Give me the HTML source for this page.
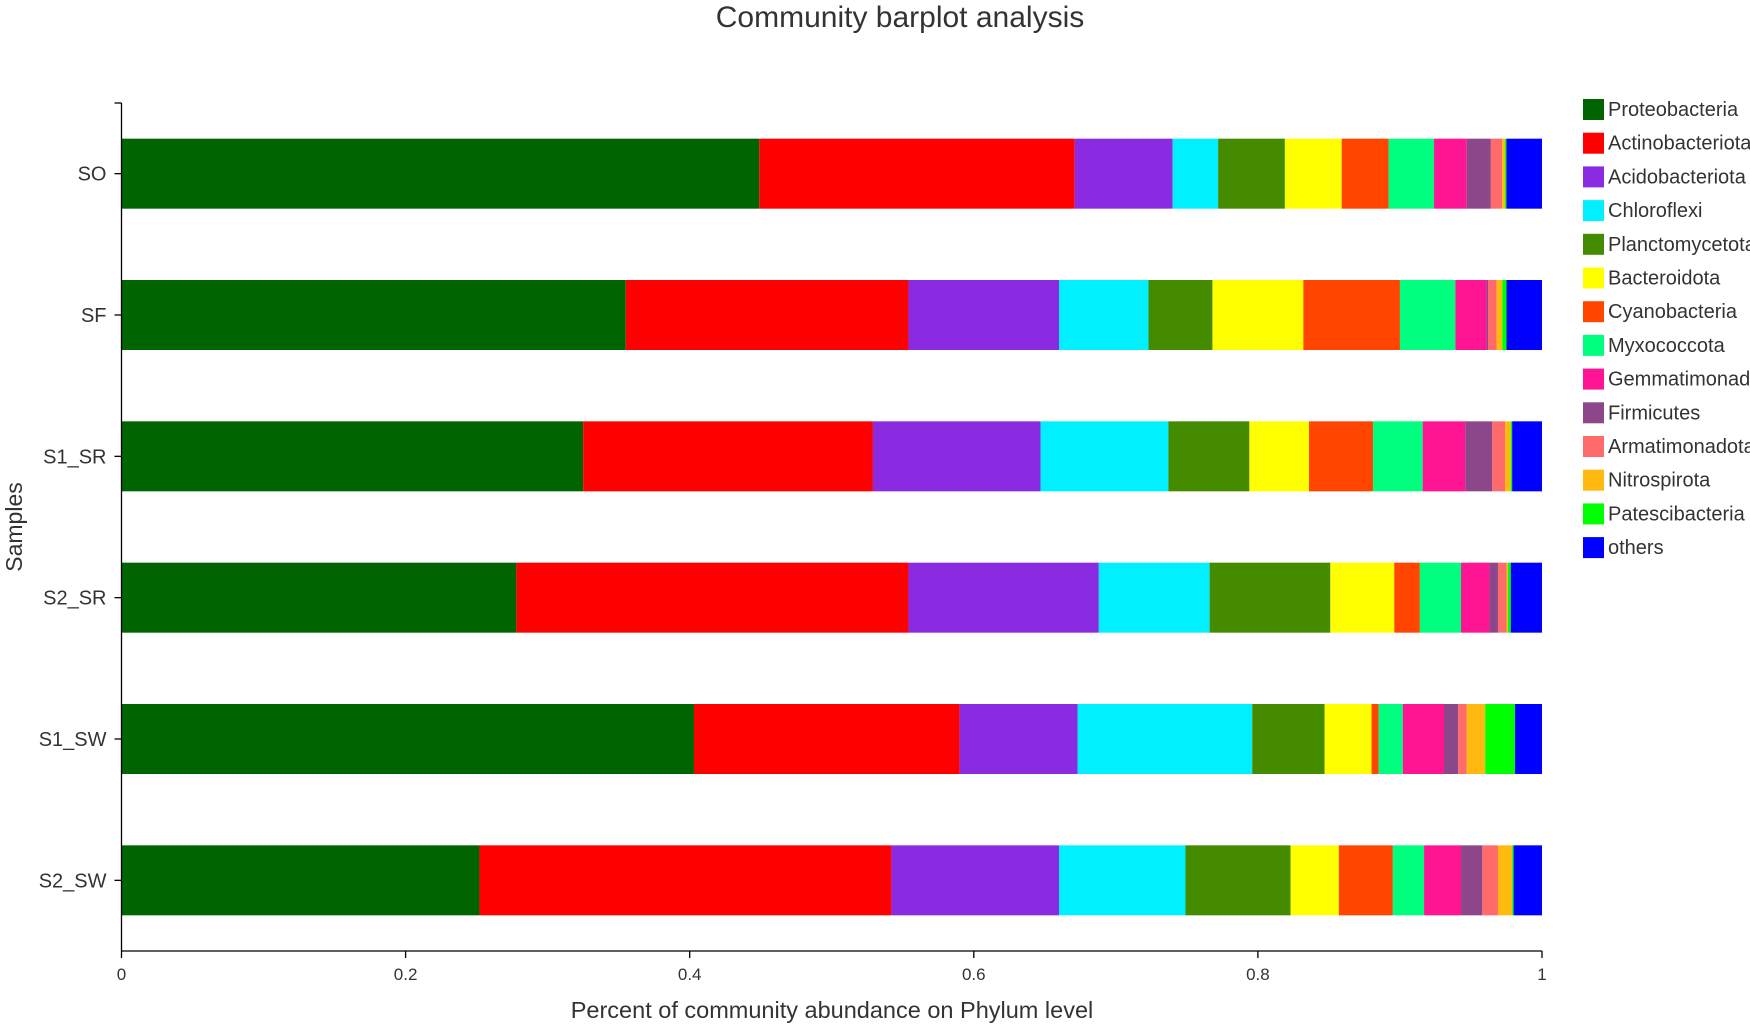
<!DOCTYPE html>
<html><head><meta charset="utf-8"><style>
html,body{margin:0;padding:0;background:#fff;overflow:hidden}
svg{display:block;font-family:"Liberation Sans",sans-serif}
</style></head><body>
<svg id="chart" width="1750" height="1027" viewBox="0 0 1750 1027">
<text x="900" y="27" font-size="30" text-anchor="middle" fill="#333">Community barplot analysis</text>
<g id="bars"></g>
<g id="axes"></g>
<g id="legend"></g>
<text x="832" y="1018" font-size="23.5" text-anchor="middle" fill="#333">Percent of community abundance on Phylum level</text>
<text transform="translate(22,527) rotate(-90)" font-size="23" text-anchor="middle" fill="#333">Samples</text>
</svg>
<script>
const samples = ["SO","SF","S1_SR","S2_SR","S1_SW","S2_SW"];
const phyla = ["Proteobacteria","Actinobacteriota","Acidobacteriota","Chloroflexi","Planctomycetota","Bacteroidota","Cyanobacteria","Myxococcota","Gemmatimonadota","Firmicutes","Armatimonadota","Nitrospirota","Patescibacteria","others"];
const colors = ["#006400","#ff0000","#8a2be2","#00f0ff","#458b00","#ffff00","#ff4500","#00ff7f","#ff1493","#8b4789","#ff6a6a","#ffb90f","#00ff00","#0000ff"];
const proteobacteria = [0.449,0.355,0.325,0.278,0.403,0.252];
const actinobacteriota = [0.222,0.199,0.204,0.276,0.187,0.290];
const acidobacteriota = [0.069,0.106,0.118,0.134,0.083,0.118];
const chloroflexi = [0.032,0.063,0.090,0.078,0.123,0.089];
const planctomycetota = [0.047,0.045,0.057,0.085,0.051,0.074];
const bacteroidota = [0.040,0.064,0.042,0.045,0.033,0.034];
const cyanobacteria = [0.033,0.068,0.045,0.018,0.005,0.038];
const myxococcota = [0.032,0.039,0.035,0.029,0.017,0.022];
const gemmatimonadota = [0.023,0.022,0.030,0.020,0.029,0.026];
const firmicutes = [0.017,0.001,0.019,0.006,0.010,0.015];
const armatimonadota = [0.008,0.006,0.009,0.006,0.006,0.011];
const nitrospirota = [0.002,0.004,0.004,0.001,0.013,0.010];
const patescibacteria = [0.001,0.003,0.001,0.002,0.021,0.001];
const others = [0.025,0.025,0.021,0.022,0.019,0.020];
const xTicks = [0,0.2,0.4,0.6,0.8,1];
const xTickLabels = ["0","0.2","0.4","0.6","0.8","1"];

const series = [proteobacteria,actinobacteriota,acidobacteriota,chloroflexi,planctomycetota,bacteroidota,cyanobacteria,myxococcota,gemmatimonadota,firmicutes,armatimonadota,nitrospirota,patescibacteria,others];
const NS="http://www.w3.org/2000/svg";
const X0=121.5, X1=1542, Y0=103, Y1=951;
const xs=v=>X0+(X1-X0)*v;
const band=(Y1-Y0)/samples.length;
const yc=i=>Y0+band*(i+0.5);
const BH=70;
function mk(tag,attrs,parent){const e=document.createElementNS(NS,tag);for(const k in attrs)e.setAttribute(k,attrs[k]);parent.appendChild(e);return e;}
const bars=document.getElementById('bars');
samples.forEach((s,i)=>{
  let cum=0;
  series.forEach((ser,j)=>{
    const v=ser[i];
    const r=mk('rect',{x:xs(cum),y:yc(i)-BH/2,width:Math.max(0,xs(cum+v)-xs(cum)),height:BH,fill:colors[j]},bars);
    
    
    cum+=v;
  });
});
const axes=document.getElementById('axes');
let l=mk('line',{x1:X0,y1:Y1,x2:X1,y2:Y1,stroke:'#000','stroke-width':1.3},axes);


l=mk('line',{x1:X0,y1:Y0,x2:X0,y2:Y1,stroke:'#000','stroke-width':1.3},axes);


xTicks.forEach((t,k)=>{
  const tk=mk('line',{x1:xs(t),y1:Y1,x2:xs(t),y2:Y1+7,stroke:'#000','stroke-width':1.3},axes);
  
  
  const tx=mk('text',{x:xs(t),y:980,'font-size':17,'text-anchor':'middle',fill:'#333'},axes);
  tx.textContent=xTickLabels[k];
  
  
});
mk('line',{x1:X0-7,y1:Y0,x2:X0,y2:Y0,stroke:'#000','stroke-width':1.3},axes);
samples.forEach((s,i)=>{
  const tk=mk('line',{x1:X0-7,y1:yc(i),x2:X0,y2:yc(i),stroke:'#000','stroke-width':1.3},axes);
  
  
  const tx=mk('text',{x:X0-15,y:yc(i)+7,'font-size':20,'text-anchor':'end',fill:'#333'},axes);
  tx.textContent=s;
  
  
});
const lg=document.getElementById('legend');
phyla.forEach((p,j)=>{
  const y=99+j*33.7;
  const g=mk('g',{},lg);
  
  
  mk('rect',{x:1583,y:y,width:21,height:21,fill:colors[j]},g);
  const t=mk('text',{x:1608,y:y+17,'font-size':20,fill:'#333'},g);
  t.textContent=p;
});
</script>
</body></html>
